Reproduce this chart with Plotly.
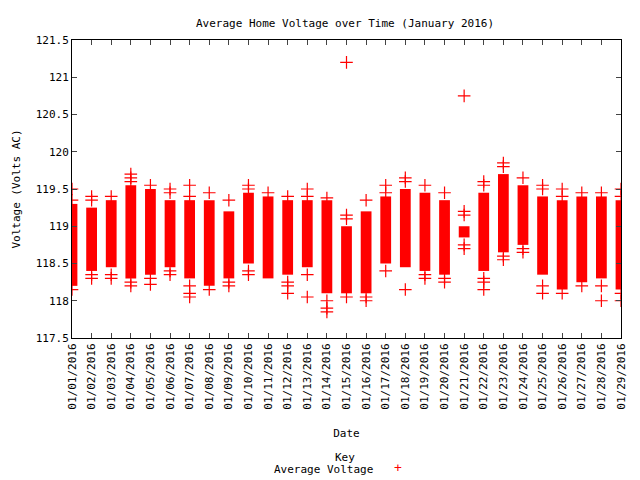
import plotly.graph_objects as go

days = list(range(1, 30))
labels = ["01/%02d/2016" % d for d in days]
y_ticks = [117.5, 118, 118.5, 119, 119.5, 120, 120.5, 121, 121.5]
y_labels = ["117.5", "118", "118.5", "119", "119.5", "120", "120.5", "121", "121.5"]
band_low = [118.2,118.4,118.45,118.3,118.35,118.45,118.3,118.2,118.3,118.5,118.3,118.35,118.45,118.1,118.1,
            118.1,118.5,118.45,118.4,118.35,118.85,118.4,118.65,118.75,118.35,118.15,118.25,118.3,118.15]
band_high = [119.3,119.25,119.35,119.55,119.5,119.35,119.35,119.35,119.2,119.45,119.4,119.35,119.35,119.35,119.0,
             119.2,119.4,119.5,119.45,119.35,119.0,119.45,119.7,119.55,119.4,119.35,119.4,119.4,119.35]
extras = [
    [119.5,119.35,118.15],[119.4,119.35,118.35,118.3],[119.4,118.35,118.3],[119.7,119.65,119.6,118.25,118.2],
    [119.55,118.3,118.22],[119.5,119.45,118.4,118.35],[119.55,119.4,118.2,118.1,118.05],[119.45,118.15],
    [119.35,118.25,118.2],[119.55,119.5,118.4,118.35],[119.45],[119.4,118.25,118.2,118.1],
    [119.5,119.4,118.35,118.05],[119.38,118.0,117.9,117.85],[121.2,119.15,119.1,118.05],[119.35,118.05,118.0],
    [119.55,119.45,118.4],[119.65,119.6,118.15],[119.55,118.35,118.3],[119.45,118.3,118.25],
    [120.75,119.2,119.15,118.75,118.7],[119.6,119.55,118.3,118.25,118.15],[119.85,119.8,118.6,118.55],
    [119.65,118.7,118.65],[119.55,119.5,118.2,118.1],[119.5,119.4,118.1],[119.45,118.2],
    [119.45,118.2,118.0],[119.5,119.4,118.1,118.0]]

ex_x = [d for d, e in zip(days, extras) for _ in e]
ex_y = [v for e in extras for v in e]

fig = go.Figure()
fig.add_trace(go.Bar(x=days, y=[h - l for h, l in zip(band_high, band_low)], base=band_low,
                     width=0.55, marker=dict(color="red", line=dict(width=0))))
fig.add_trace(go.Scatter(x=ex_x, y=ex_y, mode="markers",
                         marker=dict(symbol="cross-thin", size=9, line=dict(color="red", width=1.2))))
font = dict(family="DejaVu Sans Mono", size=11, color="black")
fig.update_layout(width=640, height=480, margin=dict(l=64, r=27, t=32, b=150),
                  plot_bgcolor="white", paper_bgcolor="white", showlegend=False, font=font,
                  title=dict(text="Average Home Voltage over Time (January 2016)", x=337/640, y=0.977,
                             xanchor="center", font=font))
fig.update_xaxes(range=[1, 29], tickvals=days, ticktext=labels, tickangle=-90, ticks="inside",
                 ticklen=5, showline=True, linecolor="black", mirror="ticks", showgrid=False,
                 zeroline=False, automargin=False, tickfont=font,
                 title=dict(text="Date", standoff=20, font=font))
fig.update_yaxes(range=[117.5, 121.5], tickvals=y_ticks, ticktext=y_labels, ticks="inside", ticklen=5,
                 showline=True, linecolor="black", mirror="ticks", showgrid=False, zeroline=False,
                 automargin=False, tickfont=font,
                 title=dict(text="Voltage (Volts AC)", standoff=12, font=font))
fig.add_annotation(text="Key", x=(345-72)/549, y=-(466-338)/298, xref="paper", yref="paper",
                   showarrow=False, font=font)
fig.add_annotation(text="Average Voltage", x=(375-72)/549, y=-(478-338)/298, xref="paper", yref="paper",
                   xanchor="right", showarrow=False, font=font)
fig.add_annotation(text="+", x=(398-72)/549, y=-(477-338)/298, xref="paper", yref="paper",
                   showarrow=False, font=dict(family="DejaVu Sans Mono", size=13, color="red"))
fig.write_html("out.html")
